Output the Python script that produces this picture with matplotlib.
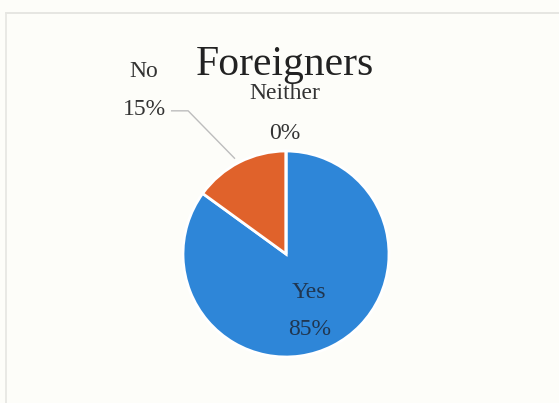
import numpy as np
import matplotlib.pyplot as plt
from matplotlib.lines import Line2D

categories = ["Yes", "No", "Neither"]
shares = [85, 15, 0]
colors = ["#2e86d8", "#e0622b", "#a5a5a5"]
title = "Foreigners"

bg = "#fdfdf9"
W, H = 559, 403
cx, cy, r = 286, 254, 103  # pie center / radius in pixels

fig = plt.figure(figsize=(W / 100, H / 100), dpi=100, facecolor=bg)
ax = fig.add_axes([(cx - r) / W, (H - cy - r) / H, 2 * r / W, 2 * r / H])
ax.set_facecolor(bg)

wedges, _ = ax.pie(shares, colors=colors, startangle=90, counterclock=False,
                   radius=1.0, wedgeprops=dict(edgecolor="white", linewidth=2))
ax.set_xlim(-1, 1)
ax.set_ylim(-1, 1)
ax.set_aspect("equal")
ax.axis("off")

font = "Liberation Serif"
fs = 17

# inside label for the big slice
w = wedges[0]
mid = np.deg2rad((w.theta1 + w.theta2) / 2)
ax.text(0.50 * np.cos(mid), 0.53 * np.sin(mid) - 0.08,
        f"{categories[0]}\n\n{shares[0]}%", ha="center", va="center",
        fontsize=fs, family=font, color="#203650", linespacing=0.82)

# outside labels
ax.text(-1.38, 1.77, categories[1], ha="center", va="center",
        fontsize=fs, family=font, color="#333333", clip_on=False)
ax.text(-1.37, 1.40, f"{shares[1]}%", ha="center", va="center",
        fontsize=fs, family=font, color="#333333", clip_on=False)
ax.add_line(Line2D([-1.11, -0.95, -0.50], [1.39, 1.39, 0.93],
                   color="#bdbdbd", lw=1, clip_on=False))

ax.text(-0.01, 1.56, categories[2], ha="center", va="center",
        fontsize=fs, family=font, color="#333333", clip_on=False)
ax.text(-0.01, 1.17, f"{shares[2]}%", ha="center", va="center",
        fontsize=fs, family=font, color="#333333", clip_on=False)

ax.text(-0.01, 1.84, title, ha="center", va="center",
        fontsize=30, family=font, color="#222222", clip_on=False)

# faint frame of the scanned chart area
fig.add_artist(Line2D([6 / W, 1], [1 - 13 / H, 1 - 13 / H], color="#e2e2de", lw=1.2))
fig.add_artist(Line2D([6 / W, 6 / W], [0, 1 - 13 / H], color="#e6e6e2", lw=1.2))

fig.savefig("out.png", dpi=100, facecolor=bg)
